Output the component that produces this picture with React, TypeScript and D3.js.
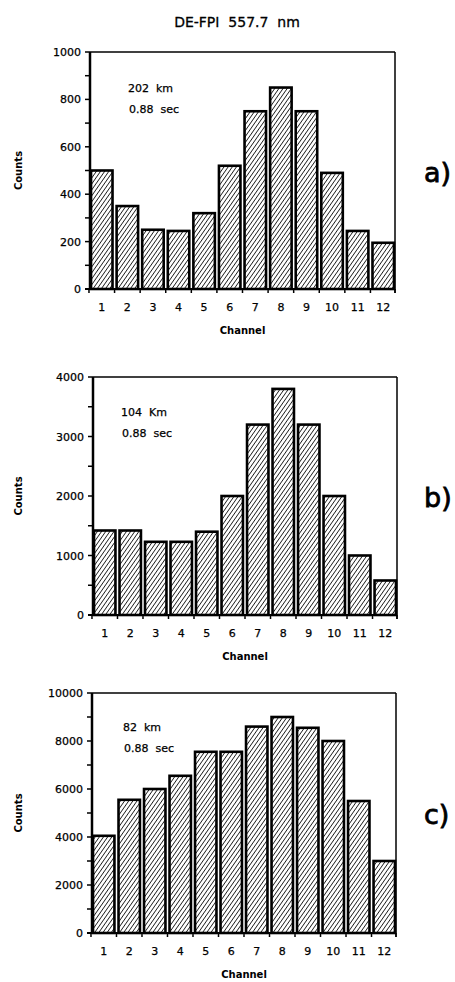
import React from 'react';
import * as d3 from 'd3';

const channels = [1, 2, 3, 4, 5, 6, 7, 8, 9, 10, 11, 12];
const countsA = [500, 350, 250, 245, 320, 520, 750, 850, 750, 490, 245, 195];
const countsB = [1420, 1420, 1230, 1230, 1400, 2000, 3200, 3800, 3200, 2000, 1000, 580];
const countsC = [4050, 5550, 6000, 6550, 7550, 7550, 8600, 9000, 8550, 8000, 5500, 3000];
const ticksA = [0, 200, 400, 600, 800, 1000];
const ticksB = [0, 1000, 2000, 3000, 4000];
const ticksC = [0, 2000, 4000, 6000, 8000, 10000];
const labelsA = ['202  km', '0.88  sec'];
const labelsB = ['104  Km', '0.88  sec'];
const labelsC = ['82  km', '0.88  sec'];

const title = 'DE-FPI  557.7  nm';
const font = '"DejaVu Sans", Verdana, sans-serif';

const panels = [
  { id: 'a)', counts: countsA, ticks: ticksA, labels: labelsA, left: 90, right: 395, top: 52, bottom: 289, noteX: 128, noteY: 92 },
  { id: 'b)', counts: countsB, ticks: ticksB, labels: labelsB, left: 93, right: 397, top: 377, bottom: 615, noteX: 121, noteY: 416 },
  { id: 'c)', counts: countsC, ticks: ticksC, labels: labelsC, left: 92, right: 396, top: 693, bottom: 933, noteX: 123, noteY: 731 },
];

const Panel = ({ p }: any) => {
  const x = d3.scaleBand<number>()
    .domain(channels)
    .range([p.left, p.right])
    .paddingInner(0.16)
    .paddingOuter(0.04);
  const maxV = p.ticks[p.ticks.length - 1];
  const y = d3.scaleLinear().domain([0, maxV]).range([p.bottom, p.top]);
  const step = p.ticks[1] - p.ticks[0];
  const minor = d3.range(0, maxV + 1, step / 2);
  const edges = channels.map(c => x(c)! - (x.step() - x.bandwidth()) / 2).concat([p.right]);

  return (
    <g>
      {channels.map((c, i) => (
        <rect key={c} x={x(c)} y={y(p.counts[i])} width={x.bandwidth()}
          height={p.bottom - y(p.counts[i])} fill="url(#hatch)" stroke="#000" strokeWidth={2.6} />
      ))}
      <line x1={p.left} x2={p.right} y1={p.top} y2={p.top} stroke="#000" strokeWidth={1.5} />
      <line x1={p.right} x2={p.right} y1={p.top} y2={p.bottom + 4} stroke="#000" strokeWidth={1.5} />
      <line x1={p.left} x2={p.left} y1={p.top} y2={p.bottom} stroke="#000" strokeWidth={2.5} />
      <line x1={p.left - 5} x2={p.right} y1={p.bottom} y2={p.bottom} stroke="#000" strokeWidth={2} />
      {minor.map(t => (
        <line key={t} x1={p.left - 5} x2={p.left} y1={y(t)} y2={y(t)} stroke="#000" strokeWidth={1.5} />
      ))}
      {p.ticks.map((t: number) => (
        <text key={t} x={p.left - 9} y={y(t) + 4} textAnchor="end" fontSize={11} fontFamily={font}
          stroke="#000" strokeWidth={0.25}>{t}</text>
      ))}
      {edges.map((e, i) => (
        <line key={i} x1={e} x2={e} y1={p.bottom} y2={p.bottom + 4} stroke="#000" strokeWidth={1.5} />
      ))}
      {channels.map(c => (
        <text key={c} x={x(c)! + x.bandwidth() / 2} y={p.bottom + 22} textAnchor="middle"
          fontSize={11} fontFamily={font} stroke="#000" strokeWidth={0.25}>{c}</text>
      ))}
      <text x={(p.left + p.right) / 2} y={p.bottom + 45} textAnchor="middle" fontSize={10}
        fontWeight="bold" fontFamily={font}>Channel</text>
      <text transform={`translate(22, ${(p.top + p.bottom) / 2}) rotate(-90)`} textAnchor="middle"
        fontSize={10} fontWeight="bold" fontFamily={font}>Counts</text>
      {p.labels.map((l: string, i: number) => (
        <text key={i} x={p.noteX + (i ? 1 : 0)} y={p.noteY + i * 21} fontSize={11}
          fontFamily={font} stroke="#000" strokeWidth={0.25} style={{ whiteSpace: 'pre' }}>{l}</text>
      ))}
      <text x={424} y={(p.top + p.bottom) / 2 + 11} fontSize={27} fontFamily={font}
        stroke="#000" strokeWidth={0.8}>{p.id}</text>
    </g>
  );
};

export default function App() {
  return (
    <div style={{ position: 'absolute', left: 0, top: 0 }}>
      <svg width={455} height={982} style={{ display: 'block', background: '#fff' }}>
        <defs>
          <pattern id="hatch" width={3.4} height={3.4} patternUnits="userSpaceOnUse" patternTransform="rotate(35)">
            <rect width={3.4} height={3.4} fill="#fff" />
            <line x1={0} y1={0} x2={0} y2={3.4} stroke="#000" strokeWidth={1.5} />
          </pattern>
        </defs>
        <text x={237} y={27} textAnchor="middle" fontSize={14} fontFamily={font}
          stroke="#000" strokeWidth={0.3} style={{ whiteSpace: 'pre' }}>{title}</text>
        {panels.map(p => <Panel key={p.id} p={p} />)}
      </svg>
    </div>
  );
}
